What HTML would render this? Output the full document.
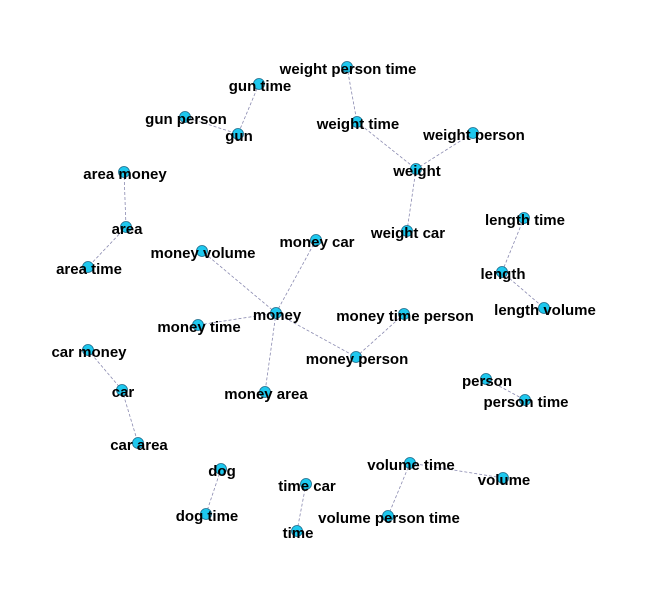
<!DOCTYPE html>
<html><head><meta charset="utf-8">
<style>
html,body{margin:0;padding:0;background:#fff;}
svg{display:block;}
text{font-family:"Liberation Sans",sans-serif;font-weight:bold;font-size:15px;fill:#000;}
</style></head>
<body>
<svg id="chart" width="661" height="593" viewBox="0 0 661 593" xmlns="http://www.w3.org/2000/svg">
<g id="edges"></g>
<g id="nodes"></g>
</svg>
<script>
const nodeNames = ["weight person time","gun time","gun person","gun","weight time","weight person","weight","area money","area","area time","weight car","length time","length","length volume","money volume","money car","money","money time","money time person","money person","car money","car","car area","money area","person","person time","dog","dog time","time car","time","volume time","volume","volume person time"];
const nodeX = [347,259,185,238,357,473,416,124,126,88,407,524,502,544,202,316,276,198,404,356,88,122,138,265,486,525,221,206,306,297,410,503,388];
const nodeY = [67,84,117,134,122,133,169,172,227,267,231,218,272,308,251,240,313,325,314,357,350,390,443,392,379,400,469,514,484,531,463,478,516];
const edgeFrom = ["gun time","gun person","weight person time","weight time","weight person","weight","area money","area","length time","length","money","money","money","money","money person","money","car money","car","person","dog","time car","volume time","volume time"];
const edgeTo = ["gun","gun","weight time","weight","weight","weight car","area","area time","length","length volume","money volume","money car","money time","money person","money time person","money area","car","car area","person time","dog time","time","volume","volume person time"];

const NS="http://www.w3.org/2000/svg";
const eg=document.getElementById('edges'), ng=document.getElementById('nodes');
const idx=n=>nodeNames.indexOf(n);
for(let i=0;i<edgeFrom.length;i++){
  const a=idx(edgeFrom[i]), b=idx(edgeTo[i]);
  const l=document.createElementNS(NS,'line');
  l.setAttribute('x1',nodeX[a]);l.setAttribute('y1',nodeY[a]);
  l.setAttribute('x2',nodeX[b]);l.setAttribute('y2',nodeY[b]);
  l.setAttribute('stroke','#8a8ab0');l.setAttribute('stroke-width','0.8');
  l.setAttribute('stroke-dasharray','3,2');
  
  
  eg.appendChild(l);
}
for(let i=0;i<nodeNames.length;i++){
  const g=document.createElementNS(NS,'g');
  
  
  const c=document.createElementNS(NS,'circle');
  c.setAttribute('cx',nodeX[i]);c.setAttribute('cy',nodeY[i]);c.setAttribute('r','5.5');
  c.setAttribute('fill','#1ec8ee');c.setAttribute('stroke','#1a6a8a');c.setAttribute('stroke-width','0.8');
  
  
  const t=document.createElementNS(NS,'text');
  t.setAttribute('x',nodeX[i]+1);t.setAttribute('y',nodeY[i]+7);
  t.setAttribute('text-anchor','middle');
  t.textContent=nodeNames[i];
  
  
  g.appendChild(c);g.appendChild(t);ng.appendChild(g);
}
</script>
</body></html>
